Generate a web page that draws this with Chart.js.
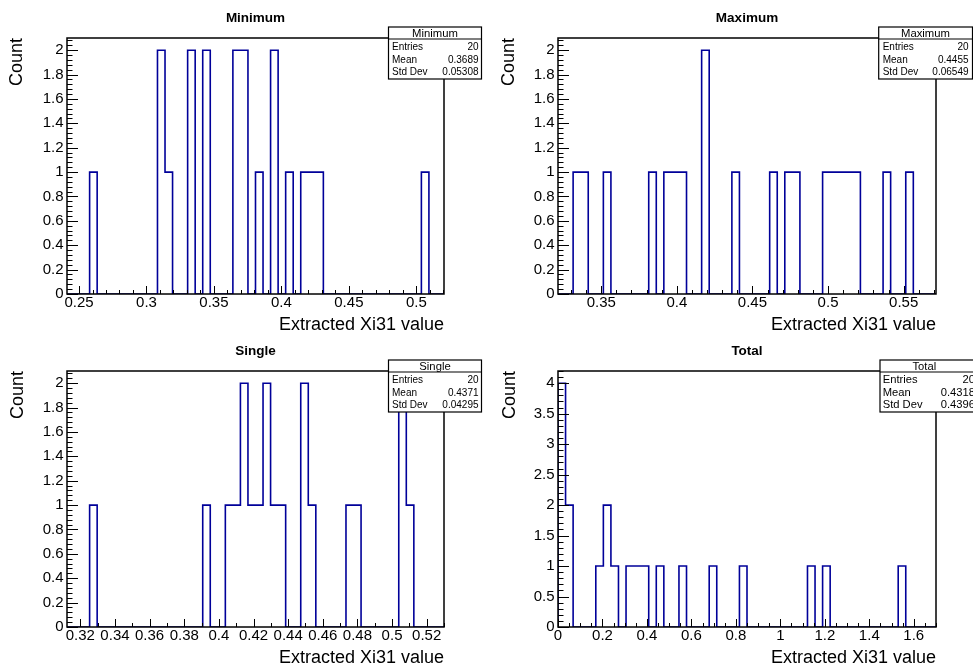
<!DOCTYPE html>
<html><head><meta charset="utf-8">
<script src="https://cdn.jsdelivr.net/npm/chart.js@4.4.1/dist/chart.umd.min.js"></script>
<style>
html,body{margin:0;padding:0;background:#fff;}
#wrap{position:relative;width:973px;height:667px;overflow:hidden;background:#fff;}
canvas{position:absolute;}
</style></head><body>
<div id="wrap">
<canvas id="c0" width="486" height="333" style="left:0px;top:0px"></canvas>
<canvas id="c1" width="487" height="333" style="left:486px;top:0px"></canvas>
<canvas id="c2" width="486" height="334" style="left:0px;top:333px"></canvas>
<canvas id="c3" width="487" height="334" style="left:486px;top:333px"></canvas>
</div>
<script>
// ---------------- data ----------------
const histTitles = ['Minimum', 'Maximum', 'Single', 'Total'];
const xAxisLabel = 'Extracted Xi31 value';
const yAxisLabel = 'Count';
const nBins = 50;

const minRange = [0.2411, 0.5205];
const maxRange = [0.3214, 0.5714];
const singleRange = [0.3123, 0.5300];
const totalRange = [0, 1.7];

const minCounts = [0,0,0,1,0,0,0,0,0,0, 0,0,2,1,0,0,2,0,2,0, 0,0,2,2,0,1,0,2,0,1, 0,1,1,1,0,0,0,0,0,0, 0,0,0,0,0,0,0,1,0,0];
const maxCounts = [0,0,1,1,0,0,1,0,0,0, 0,0,1,0,1,1,1,0,0,2, 0,0,0,1,0,0,0,0,1,0, 1,1,0,0,0,1,1,1,1,1, 0,0,0,1,0,0,1,0,0,0];
const singleCounts = [0,0,0,1,0,0,0,0,0,0, 0,0,0,0,0,0,0,0,1,0, 0,1,1,2,1,1,2,1,1,0, 0,2,1,0,0,0,0,1,1,0, 0,0,0,0,2,1,0,0,0,0];
const totalCounts = [4,2,0,0,0,1,2,1,0,1, 1,1,0,1,0,0,1,0,0,0, 1,0,0,0,1,0,0,0,0,0, 0,0,0,1,0,1,0,0,0,0, 0,0,0,0,0,1,0,0,0,0];

const minXTicks = [0.25, 0.3, 0.35, 0.4, 0.45, 0.5];
const maxXTicks = [0.35, 0.4, 0.45, 0.5, 0.55];
const singleXTicks = [0.32, 0.34, 0.36, 0.38, 0.4, 0.42, 0.44, 0.46, 0.48, 0.5, 0.52];
const totalXTicks = [0, 0.2, 0.4, 0.6, 0.8, 1, 1.2, 1.4, 1.6];
const countYTicks = [0, 0.2, 0.4, 0.6, 0.8, 1, 1.2, 1.4, 1.6, 1.8, 2];
const totalYTicks = [0, 0.5, 1, 1.5, 2, 2.5, 3, 3.5, 4];

const statNames = ['Entries', 'Mean', 'Std Dev'];
const statEntries = ['20', '20', '20', '20'];
const statMeans = ['0.3689', '0.4455', '0.4371', '0.4318'];
const statStdDevs = ['0.05308', '0.06549', '0.04295', '0.4396'];

// ---------------- layout / style ----------------
const FONT = '"Liberation Sans", Arial, Helvetica, sans-serif';
const HIST_COLOR = '#000099';
Chart.defaults.color = '#000';
Chart.defaults.font.family = FONT;

const panels = [
  {id:'c0', w:486, h:333, left:67, right:444, bottom:294, counts:minCounts, range:minRange, xTicks:minXTicks, xMinor:0.01,
   yTicks:countYTicks, yMax:2.1, yMinor:0.04, yTitlePad:8.5, xTitlePad:-1,
   box:{x0:388.5, x1:481.5, lx:392, vx:478.5, tcx:435, tSize:11.3, eSize:10}},
  {id:'c1', w:487, h:333, left:72, right:450, bottom:294, counts:maxCounts, range:maxRange, xTicks:maxXTicks, xMinor:0.01,
   yTicks:countYTicks, yMax:2.1, yMinor:0.04, yTitlePad:14, xTitlePad:-1,
   box:{x0:392.7, x1:486.5, lx:396.7, vx:482.5, tcx:439.5, tSize:11.3, eSize:10}},
  {id:'c2', w:486, h:334, left:67, right:444, bottom:294, counts:singleCounts, range:singleRange, xTicks:singleXTicks, xMinor:0.01,
   yTicks:countYTicks, yMax:2.1, yMinor:0.04, yTitlePad:9.3, xTitlePad:0,
   box:{x0:388.5, x1:481.5, lx:392, vx:478.5, tcx:435, tSize:11.3, eSize:10}},
  {id:'c3', w:487, h:334, left:72, right:450, bottom:294, counts:totalCounts, range:totalRange, xTicks:totalXTicks, xMinor:0.05,
   yTicks:totalYTicks, yMax:4.2, yMinor:0.1, yTitlePad:14.7, xTitlePad:0,
   box:{x0:394, x1:530, lx:396.7, vx:489, tcx:438.3, tSize:11.2, eSize:11.2}}
];

function fmt(v){ return String(Number(v.toFixed(4))); }

function minorValues(min, max, step){
  const out = [];
  for (let k = Math.ceil(min/step - 1e-9); k*step <= max + 1e-9; k++) out.push(k*step);
  return out;
}

const rootPlugin = {
  id: 'rootFrame',
  afterDatasetsDraw(chart, args, o) {
    const ctx = chart.ctx, a = chart.chartArea;
    const xs = chart.scales.x, ys = chart.scales.y;
    ctx.save();
    // frame
    ctx.strokeStyle = '#000';
    ctx.lineWidth = 1.5;
    ctx.strokeRect(a.left, a.top, a.right - a.left, a.bottom - a.top);
    // ticks
    ctx.lineWidth = 1;
    ctx.beginPath();
    const xt = (v, len) => { const px = Math.round(xs.getPixelForValue(v)) + 0.5; ctx.moveTo(px, a.bottom); ctx.lineTo(px, a.bottom - len); };
    const yt = (v, len) => { const py = Math.round(ys.getPixelForValue(v)) + 0.5; ctx.moveTo(a.left, py); ctx.lineTo(a.left + len, py); };
    minorValues(xs.min, xs.max, o.xMinor).forEach(v => xt(v, 4));
    o.xTicks.forEach(v => xt(v, 8));
    minorValues(0, ys.max, o.yMinor).forEach(v => yt(v, 5.5));
    o.yTicks.forEach(v => yt(v, 11));
    ctx.stroke();
    // stat box
    const b = o.box, y0 = 27, y1 = 79, sep = 39;
    ctx.fillStyle = '#fff';
    ctx.fillRect(b.x0, y0, b.x1 - b.x0, y1 - y0);
    ctx.strokeStyle = '#000';
    ctx.lineWidth = 1.2;
    ctx.strokeRect(b.x0, y0, b.x1 - b.x0, y1 - y0);
    ctx.beginPath(); ctx.moveTo(b.x0, sep); ctx.lineTo(b.x1, sep); ctx.stroke();
    ctx.fillStyle = '#000';
    ctx.textBaseline = 'middle';
    ctx.textAlign = 'center';
    ctx.font = b.tSize + 'px ' + FONT;
    ctx.fillText(o.title, b.tcx, 33.5);
    ctx.font = b.eSize + 'px ' + FONT;
    const rowsY = [47, 59.8, 72];
    o.statVals.forEach((val, i) => {
      ctx.textAlign = 'left';
      ctx.fillText(statNames[i], b.lx, rowsY[i]);
      ctx.textAlign = 'right';
      ctx.fillText(val, b.vx, rowsY[i]);
    });
    ctx.restore();
  }
};

panels.forEach((p, idx) => {
  const width = (p.range[1] - p.range[0]) / nBins;
  const pts = [{x: p.range[0], y: 0}];
  p.counts.forEach((c, i) => pts.push({x: p.range[0] + i*width, y: c}));
  pts.push({x: p.range[1], y: 0});

  new Chart(document.getElementById(p.id), {
    type: 'line',
    data: { datasets: [{
      data: pts, borderColor: HIST_COLOR, borderWidth: 1.6, stepped: true,
      pointRadius: 0, fill: false, tension: 0
    }]},
    plugins: [rootPlugin],
    options: {
      responsive: false, animation: false, devicePixelRatio: 1,
      layout: { padding: { left: 0, right: p.w - p.right, top: 0, bottom: 0 } },
      plugins: {
        legend: { display: false },
        tooltip: { enabled: false },
        title: { display: true, text: histTitles[idx], fullSize: false, color: '#000',
                 font: { family: FONT, size: 13.5, weight: 'bold', lineHeight: 1.2 },
                 padding: { top: 9.9, bottom: 11.9 } },
        rootFrame: {
          xTicks: p.xTicks, yTicks: p.yTicks, xMinor: p.xMinor, yMinor: p.yMinor,
          box: p.box, title: histTitles[idx],
          statVals: [statEntries[idx], statMeans[idx], statStdDevs[idx]]
        }
      },
      scales: {
        x: {
          type: 'linear', min: p.range[0], max: p.range[1],
          grid: { display: false, drawTicks: false }, border: { display: false },
          afterBuildTicks: s => { s.ticks = p.xTicks.map(v => ({value: v})); },
          afterFit: s => { s.height = p.h - p.bottom; },
          ticks: { autoSkip: false, maxRotation: 0, minRotation: 0, padding: 0, color: '#000',
                   font: { family: FONT, size: 15, lineHeight: 1.2 }, callback: v => fmt(v) },
          title: { display: true, text: xAxisLabel, align: 'end', color: '#000',
                   font: { family: FONT, size: 18, lineHeight: 1 }, padding: { top: 0, bottom: p.xTitlePad } }
        },
        y: {
          type: 'linear', min: 0, max: p.yMax,
          grid: { display: false, drawTicks: false }, border: { display: false },
          afterBuildTicks: s => { s.ticks = p.yTicks.map(v => ({value: v})); },
          afterFit: s => { s.width = p.left; },
          ticks: { autoSkip: false, padding: 3.5, color: '#000',
                   font: { family: FONT, size: 15, lineHeight: 1.2 }, callback: v => fmt(v) },
          title: { display: true, text: yAxisLabel, align: 'end', color: '#000',
                   font: { family: FONT, size: 18, lineHeight: 1 }, padding: { top: p.yTitlePad, bottom: 0 } }
        }
      }
    }
  });
});
</script>
</body></html>
